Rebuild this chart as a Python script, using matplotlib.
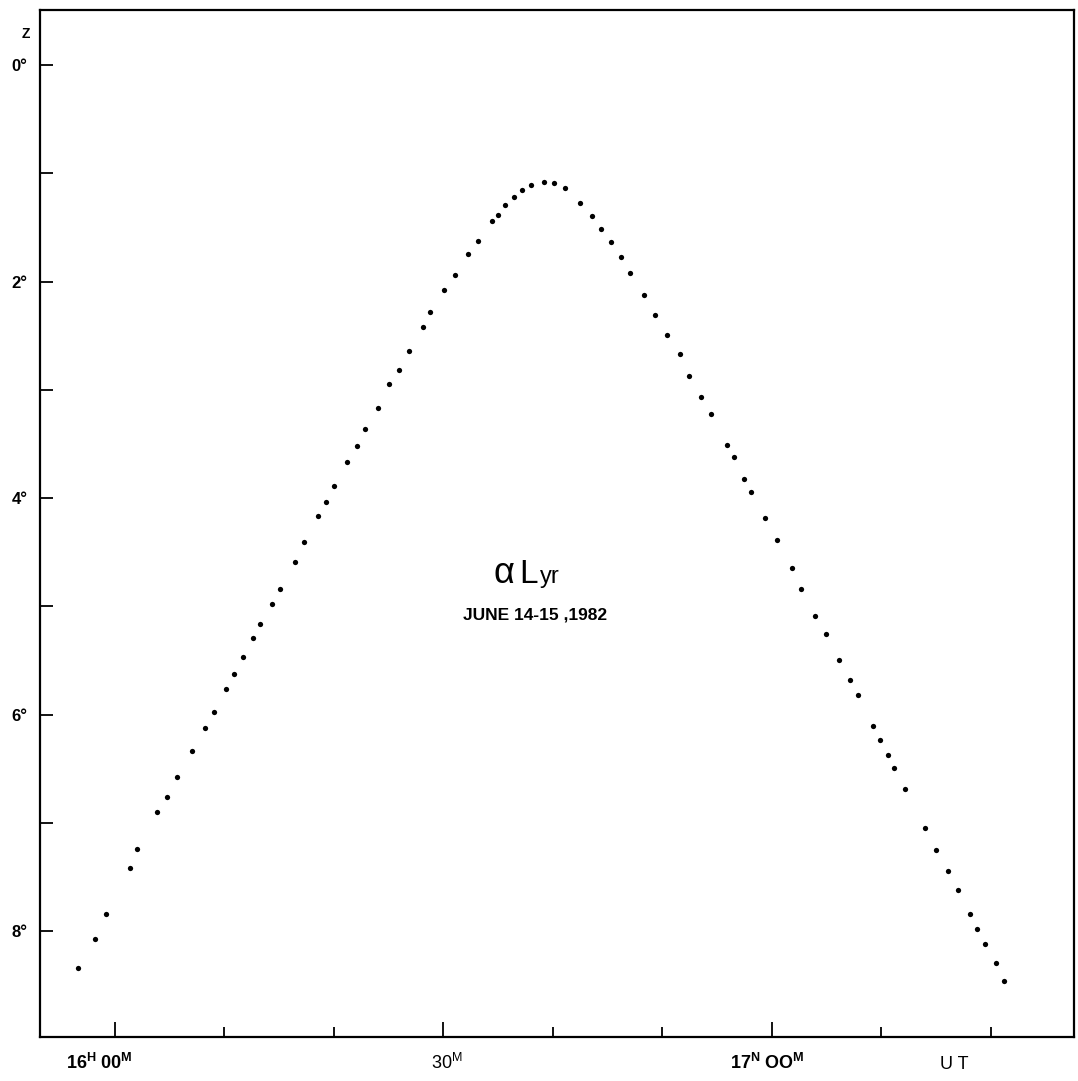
import matplotlib
matplotlib.use('Agg')
import matplotlib.pyplot as plt

plt.rcParams['font.family'] = ['Liberation Sans', 'DejaVu Sans']
plt.rcParams['mathtext.fontset'] = 'custom'
plt.rcParams['mathtext.rm'] = 'Liberation Sans'
plt.rcParams['mathtext.bf'] = 'Liberation Sans:bold'

# alpha Lyr, June 14-15 1982: time in minutes after 16h00m UT, zenith distance in degrees
t_min = [-3.38, -1.83, -0.82, 1.37, 2.01, 3.84, 4.75, 5.66, 7.03, 8.22,
         9.04, 10.14, 10.87, 11.69, 12.60, 13.24, 14.34, 15.07, 16.44, 17.26,
         18.54, 19.27, 20.00, 21.19, 22.10, 22.83, 24.02, 25.02, 25.94, 26.85,
         28.13, 28.77, 30.05, 31.05, 32.24, 33.15, 34.43, 34.98, 35.62, 36.44,
         37.17, 37.99, 39.18, 40.09, 41.10, 42.47, 43.56, 44.38, 45.30, 46.21,
         47.03, 48.31, 49.32, 50.41, 51.60, 52.42, 53.52, 54.43, 55.89, 56.53,
         57.44, 58.08, 59.36, 60.46, 61.83, 62.65, 63.93, 64.93, 66.12, 67.12,
         67.85, 69.22, 69.86, 70.59, 71.14, 72.15, 73.97, 74.98, 76.07, 76.99,
         78.08, 78.72, 79.45, 80.46, 81.19]
z_deg = [8.34, 8.07, 7.84, 7.42, 7.24, 6.90, 6.76, 6.58, 6.34, 6.12,
         5.98, 5.76, 5.63, 5.47, 5.29, 5.16, 4.98, 4.84, 4.59, 4.41,
         4.17, 4.04, 3.89, 3.67, 3.52, 3.36, 3.17, 2.95, 2.82, 2.64,
         2.42, 2.28, 2.08, 1.94, 1.74, 1.62, 1.44, 1.38, 1.29, 1.22,
         1.15, 1.11, 1.08, 1.09, 1.13, 1.27, 1.39, 1.51, 1.63, 1.77,
         1.92, 2.12, 2.31, 2.49, 2.67, 2.87, 3.07, 3.22, 3.51, 3.62,
         3.82, 3.94, 4.18, 4.39, 4.65, 4.84, 5.09, 5.26, 5.50, 5.68,
         5.82, 6.11, 6.24, 6.37, 6.49, 6.69, 7.05, 7.25, 7.45, 7.62,
         7.84, 7.98, 8.12, 8.30, 8.46]

x_major = [0, 30, 60]
x_minor = [10, 20, 40, 50, 70, 80]
# time labels, placed by hand under the ticks like on the original sheet
x_label_pos = [-1.4, 30.3, 59.6, 76.7]
x_label_txt = [r'16$^{\mathbf{H}}$ 00$^{\mathbf{M}}$', r'30$^{\mathrm{M}}$',
               r'17$^{\mathbf{N}}$ OO$^{\mathbf{M}}$', 'U T']
x_label_bold = [True, False, True, False]
y_ticks = [0, 1, 2, 3, 4, 5, 6, 7, 8]
y_labels = ['0°', '', '2°', '', '4°', '', '6°', '', '8°']

fig = plt.figure(figsize=(10.78, 10.81), dpi=100)
ax = fig.add_axes([0.0371, 0.0407, 0.959, 0.950])

ax.plot(t_min, z_deg, 'o', color='black', markersize=3.8, markeredgewidth=0)

ax.set_xlim(-6.85, 87.58)
ax.set_ylim(8.98, -0.51)

ax.set_xticks(x_major)
ax.set_xticks(x_minor, minor=True)
ax.set_xticklabels([])
ax.set_yticks(y_ticks)
ax.set_yticklabels(y_labels, fontsize=12, fontweight='bold')

ax.tick_params(axis='x', which='major', direction='in', length=11, width=1.3)
ax.tick_params(axis='x', which='minor', direction='in', length=7.5, width=1.3)
ax.tick_params(axis='y', direction='in', length=9.5, width=1.3, pad=9)
for s in ax.spines.values():
    s.set_linewidth(1.6)

for xp, txt, b in zip(x_label_pos, x_label_txt, x_label_bold):
    ax.text(xp, -0.031, txt, transform=ax.get_xaxis_transform(), fontsize=13,
            fontweight='bold' if b else 'normal', ha='center', va='baseline')

fig.text(26 / 1078, 1 - 34 / 1081, 'Z', fontsize=10, fontweight='bold', ha='center', va='center')

ax.text(34.6, 4.785, 'α', fontsize=26, ha='left', va='baseline')
ax.text(36.9, 4.785, 'L', fontsize=24, ha='left', va='baseline')
ax.text(38.8, 4.785, 'yr', fontsize=17, ha='left', va='baseline')
ax.text(38.35, 5.12, 'JUNE 14-15 ,1982', fontsize=12.5, fontweight='bold', ha='center', va='baseline')

fig.savefig('out.png', dpi=100)
